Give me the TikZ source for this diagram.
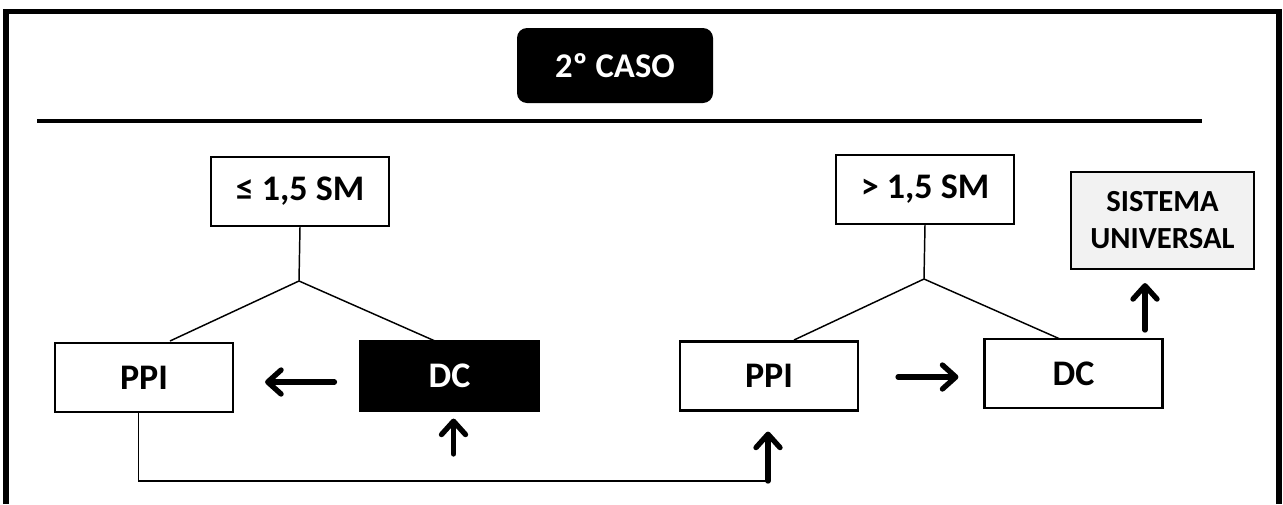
\documentclass[tikz,border=0pt]{standalone}
\usepackage{fontspec}
\setmainfont{Carlito}
\usetikzlibrary{arrows.meta,calc}
\begin{document}
\begin{tikzpicture}[x=0.75pt,y=-0.75pt,
  box/.style={draw, line width=1.6pt, minimum width=133.5pt, minimum height=51.75pt,
    inner sep=0pt, font=\bfseries\fontsize{27}{32}\selectfont},
  darkbox/.style={box, fill=black, text=white},
  tree/.style={line width=1.1pt},
  bigarrow/.style={line width=4pt, line cap=round,
    -{Straight Barb[round,length=10pt,width=18pt,line width=4pt]}},
  frameline/.style={line width=4pt},
  rule/.style={line width=3pt}]
\useasboundingbox (0,0) rectangle (1283,504);
\fill[white] (0,0) rectangle (1283,504);
% frame and rule
\draw[frameline] (6,504) -- (6,11.5) -- (1279,11.5) -- (1279,504);
\draw[rule] (37,121) -- (1202,121);
% title
\node[fill=black, text=white, rounded corners=7.5pt, minimum width=147pt, minimum height=56.25pt,
  inner sep=0pt, font=\bfseries\fontsize{26}{30}\selectfont] (title) at (615,65.5) {2º CASO};
% nodes
\node[box] (le) at (300,191.5) {≤ 1,5 SM};
\node[box] (gt) at (925,189.5) {> 1,5 SM};
\node[box, fill=black!5, minimum width=137.25pt, minimum height=72.75pt, align=center,
  font=\bfseries\fontsize{23}{27.75}\selectfont] (sis) at (1162.5,220.5) {SISTEMA\\UNIVERSAL};
\node[box] (ppiL) at (144,377.5) {PPI};
\node[darkbox] (dcL) at (449.5,376) {DC};
\node[box] (ppiR) at (769,376) {PPI};
\node[box] (dcR) at (1073.5,373.5) {DC};
% tree branches
\coordinate (aL) at (299,281);
\coordinate (aR) at (924,279);
\coordinate (bL1) at (170,341);
\coordinate (bL2) at (435,341);
\coordinate (bR1) at (794,340);
\coordinate (bR2) at (1060,339);
\draw[tree] (le.south) -- (aL) -- (bL1);
\draw[tree] (aL) -- (bL2);
\draw[tree] (gt.south) -- (aR) -- (bR1);
\draw[tree] (aR) -- (bR2);
% arrows
\draw[bigarrow] ($(dcL.west)+(-25,6)$) -- ($(ppiL.east)+(31,4.5)$);
\coordinate (u1) at (453.5,454);
\draw[bigarrow] (u1) -- ($(u1 |- dcL.south)+(0,7)$);
\coordinate (p1) at (138.5,481);
\coordinate (p2) at (768,481);
\draw[tree] ([xshift=-4.125pt]ppiL.south) -- (p1) -- (p2);
\draw[bigarrow] (p2) -- ($(p2 |- ppiR.south)+(0,20)$);
\draw[bigarrow] ($(ppiR.east)+(39,1)$) -- ($(dcR.west)+(-25,3.5)$);
\coordinate (s1) at (1145,330);
\draw[bigarrow] (s1) -- ($(s1 |- sis.south)+(0,13)$);
\end{tikzpicture}
\end{document}
